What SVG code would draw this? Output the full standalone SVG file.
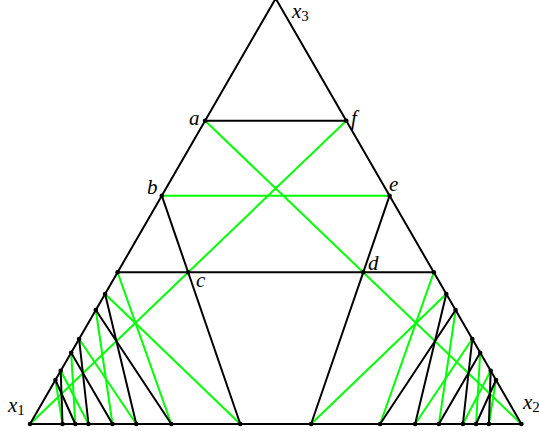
<svg xmlns="http://www.w3.org/2000/svg" width="539" height="435" viewBox="0 0 539 435">
<style>
.k{stroke:#000;stroke-width:2;fill:none;stroke-linecap:round}
.g{stroke:#00ff00;stroke-width:2;fill:none;stroke-linecap:round}
.dot{fill:#000}
.lbl{font-family:"Liberation Serif","DejaVu Serif",serif;font-style:italic;font-size:21px;fill:#000}
.sub{font-style:normal;font-size:15px}
</style>
<rect width="539" height="435" fill="#fff"/>
<g id="connectors">
  <g id="green">
    <line class="g" x1="346.3" y1="120.7" x2="30" y2="424"/>
    <line class="g" x1="205.1" y1="120.7" x2="521.4" y2="424"/>
    <line class="g" x1="161.8" y1="195.7" x2="389.6" y2="195.7"/>
    <line class="g" x1="117.6" y1="272.3" x2="171.3" y2="424"/>
    <line class="g" x1="105.1" y1="294" x2="240.3" y2="424"/>
    <line class="g" x1="95.8" y1="310" x2="112.5" y2="424"/>
    <line class="g" x1="79.1" y1="339" x2="136.3" y2="424"/>
    <line class="g" x1="71.2" y1="352.7" x2="75.3" y2="424"/>
    <line class="g" x1="60.7" y1="370.8" x2="88.5" y2="424"/>
    <line class="g" x1="55.4" y1="380" x2="62.5" y2="424"/>
    <line class="g" x1="433.8" y1="272.3" x2="380.1" y2="424"/>
    <line class="g" x1="446.3" y1="294" x2="311.1" y2="424"/>
    <line class="g" x1="455.6" y1="310" x2="438.9" y2="424"/>
    <line class="g" x1="472.3" y1="339" x2="415.1" y2="424"/>
    <line class="g" x1="480.2" y1="352.7" x2="476.1" y2="424"/>
    <line class="g" x1="490.7" y1="370.8" x2="462.9" y2="424"/>
    <line class="g" x1="496" y1="380" x2="488.9" y2="424"/>
  </g>
  <g id="black">
    <polygon class="k" points="30,424 521.4,424 275.7,-1.5"/>
    <line class="k" x1="205.1" y1="120.7" x2="346.3" y2="120.7"/>
    <line class="k" x1="117.6" y1="272.3" x2="433.8" y2="272.3"/>
    <line class="k" x1="161.8" y1="195.7" x2="240.3" y2="424"/>
    <line class="k" x1="389.6" y1="195.7" x2="311.1" y2="424"/>
    <line class="k" x1="105.1" y1="294" x2="136.3" y2="424"/>
    <line class="k" x1="95.8" y1="310" x2="171.3" y2="424"/>
    <line class="k" x1="79.1" y1="339" x2="88.5" y2="424"/>
    <line class="k" x1="71.2" y1="352.7" x2="112.5" y2="424"/>
    <line class="k" x1="60.7" y1="370.8" x2="62.5" y2="424"/>
    <line class="k" x1="55.4" y1="380" x2="75.3" y2="424"/>
    <line class="k" x1="446.3" y1="294" x2="415.1" y2="424"/>
    <line class="k" x1="455.6" y1="310" x2="380.1" y2="424"/>
    <line class="k" x1="472.3" y1="339" x2="462.9" y2="424"/>
    <line class="k" x1="480.2" y1="352.7" x2="438.9" y2="424"/>
    <line class="k" x1="490.7" y1="370.8" x2="488.9" y2="424"/>
    <line class="k" x1="496" y1="380" x2="476.1" y2="424"/>
  </g>
</g>
<g id="node-x3"><text class="lbl" x="292" y="18">x<tspan class="sub" dy="3">3</tspan></text></g>
<g id="node-x1"><circle class="dot" cx="30" cy="424" r="2.3"/><text class="lbl" x="8" y="412">x<tspan class="sub" dy="3">1</tspan></text></g>
<g id="node-x2"><circle class="dot" cx="521.4" cy="424" r="2.3"/><text class="lbl" x="523" y="409">x<tspan class="sub" dy="3">2</tspan></text></g>
<g id="node-a"><circle class="dot" cx="205.1" cy="120.7" r="2.3"/><text class="lbl" x="189" y="125">a</text></g>
<g id="node-f"><circle class="dot" cx="346.3" cy="120.7" r="2.3"/><text class="lbl" x="351" y="125">f</text></g>
<g id="node-b"><circle class="dot" cx="161.8" cy="195.7" r="2.3"/><text class="lbl" x="147" y="194">b</text></g>
<g id="node-e"><circle class="dot" cx="389.6" cy="195.7" r="2.3"/><text class="lbl" x="389" y="191">e</text></g>
<g id="node-c"><circle class="dot" cx="188.1" cy="272.3" r="2.3"/><text class="lbl" x="196" y="287">c</text></g>
<g id="node-d"><circle class="dot" cx="363.3" cy="272.3" r="2.3"/><text class="lbl" x="368" y="270">d</text></g>
<g id="left-points">
  <circle class="dot" cx="117.6" cy="272.3" r="2.3"/>
  <circle class="dot" cx="105.1" cy="294" r="2.3"/>
  <circle class="dot" cx="95.8" cy="310" r="2.3"/>
  <circle class="dot" cx="79.1" cy="339" r="2.3"/>
  <circle class="dot" cx="71.2" cy="352.7" r="2.3"/>
  <circle class="dot" cx="60.7" cy="370.8" r="2.3"/>
  <circle class="dot" cx="55.4" cy="380" r="2.3"/>
</g>
<g id="right-points">
  <circle class="dot" cx="433.8" cy="272.3" r="2.3"/>
  <circle class="dot" cx="446.3" cy="294" r="2.3"/>
  <circle class="dot" cx="455.6" cy="310" r="2.3"/>
  <circle class="dot" cx="472.3" cy="339" r="2.3"/>
  <circle class="dot" cx="480.2" cy="352.7" r="2.3"/>
  <circle class="dot" cx="490.7" cy="370.8" r="2.3"/>
  <circle class="dot" cx="496" cy="380" r="2.3"/>
</g>
<g id="bottom-points">
  <circle class="dot" cx="62.5" cy="424" r="2.3"/>
  <circle class="dot" cx="75.3" cy="424" r="2.3"/>
  <circle class="dot" cx="88.5" cy="424" r="2.3"/>
  <circle class="dot" cx="112.5" cy="424" r="2.3"/>
  <circle class="dot" cx="136.3" cy="424" r="2.3"/>
  <circle class="dot" cx="171.3" cy="424" r="2.3"/>
  <circle class="dot" cx="240.3" cy="424" r="2.3"/>
  <circle class="dot" cx="311.1" cy="424" r="2.3"/>
  <circle class="dot" cx="380.1" cy="424" r="2.3"/>
  <circle class="dot" cx="415.1" cy="424" r="2.3"/>
  <circle class="dot" cx="438.9" cy="424" r="2.3"/>
  <circle class="dot" cx="462.9" cy="424" r="2.3"/>
  <circle class="dot" cx="476.1" cy="424" r="2.3"/>
  <circle class="dot" cx="488.9" cy="424" r="2.3"/>
</g>
</svg>
